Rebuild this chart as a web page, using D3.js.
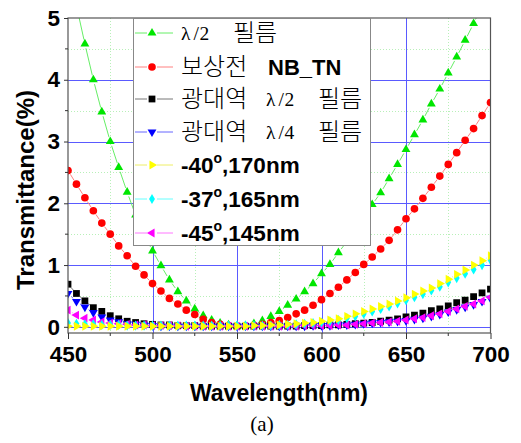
<!DOCTYPE html>
<html><head><meta charset="utf-8">
<script src="https://cdn.jsdelivr.net/npm/d3@7/dist/d3.min.js"></script>
<style>body{margin:0;background:#fff}svg{display:block}</style>
</head><body><svg id="c" width="521" height="443"></svg>
<script>
// ---------------- DATA ----------------
const wavelength = [450,455,460,465,470,475,480,485,490,495,500,505,510,515,520,525,530,535,540,545,550,555,560,565,570,575,580,585,590,595,600,605,610,615,620,625,630,635,640,645,650,655,660,665,670,675,680,685,690,695,700];
const halfWaveFilm = [5.9,5.2,4.58,4.0,3.48,3.0,2.58,2.18,1.81,1.5,1.23,0.99,0.76,0.57,0.42,0.29,0.18,0.11,0.06,0.03,0.01,0.02,0.05,0.10,0.17,0.25,0.35,0.45,0.57,0.70,0.86,1.01,1.20,1.38,1.56,1.76,1.98,2.17,2.40,2.63,2.87,3.11,3.35,3.61,3.85,4.11,4.37,4.64,4.91,5.2,5.5];
const beforeComp = [2.53,2.31,2.09,1.88,1.68,1.50,1.31,1.15,0.98,0.84,0.70,0.58,0.46,0.37,0.27,0.20,0.12,0.07,0.04,0.02,0.01,0.01,0.02,0.04,0.07,0.10,0.15,0.21,0.27,0.35,0.44,0.54,0.64,0.76,0.88,1.01,1.13,1.26,1.40,1.57,1.75,1.91,2.08,2.26,2.44,2.63,2.82,3.02,3.21,3.42,3.63];
const broadHalf = [0.69,0.54,0.42,0.31,0.25,0.18,0.13,0.09,0.07,0.05,0.04,0.03,0.03,0.02,0.02,0.02,0.01,0.01,0.01,0.01,0.01,0.01,0.01,0.01,0.01,0.01,0.01,0.01,0.02,0.02,0.02,0.03,0.03,0.04,0.05,0.06,0.07,0.09,0.11,0.13,0.16,0.19,0.22,0.26,0.29,0.34,0.39,0.43,0.49,0.55,0.61];
const broadQuarter = [0.54,0.41,0.32,0.23,0.16,0.11,0.08,0.05,0.04,0.03,0.02,0.01,0.01,0.01,0.01,0.01,0.01,0.01,0.01,0.01,0.01,0.01,0.01,0.01,0.01,0.01,0.01,0.01,0.01,0.02,0.02,0.02,0.03,0.03,0.04,0.05,0.06,0.07,0.08,0.09,0.10,0.12,0.14,0.17,0.20,0.24,0.28,0.32,0.36,0.41,0.46];
const m40_170 = [0.01,0.01,0.01,0.01,0.01,0.01,0.01,0.01,0.01,0.01,0.01,0.01,0.01,0.01,0.01,0.01,0.01,0.01,0.01,0.01,0.01,0.01,0.02,0.02,0.03,0.03,0.04,0.05,0.06,0.07,0.09,0.11,0.13,0.17,0.21,0.25,0.29,0.33,0.37,0.42,0.47,0.53,0.58,0.63,0.70,0.77,0.85,0.92,1.00,1.07,1.15];
const m37_165 = [0.06,0.05,0.04,0.04,0.03,0.03,0.03,0.02,0.02,0.02,0.02,0.02,0.02,0.02,0.02,0.02,0.02,0.02,0.02,0.02,0.02,0.02,0.02,0.02,0.02,0.03,0.03,0.04,0.05,0.06,0.07,0.09,0.11,0.14,0.17,0.21,0.25,0.29,0.33,0.38,0.43,0.48,0.53,0.59,0.65,0.72,0.79,0.86,0.93,1.00,1.08];
const m45_145 = [0.27,0.19,0.14,0.11,0.08,0.06,0.05,0.04,0.03,0.03,0.02,0.02,0.02,0.02,0.01,0.01,0.01,0.01,0.01,0.01,0.01,0.01,0.01,0.01,0.01,0.01,0.01,0.01,0.02,0.02,0.02,0.02,0.03,0.03,0.04,0.05,0.06,0.07,0.08,0.09,0.11,0.13,0.15,0.18,0.21,0.25,0.29,0.33,0.37,0.42,0.48];

const seriesNames = ["λ / 2|필름", "보상전|NB_TN", "광대역|λ / 2|필름", "광대역|λ / 4|필름", "-40|170nm", "-37|165nm", "-45|145nm"];
const seriesColors = ["#00e600", "#ff0000", "#000000", "#0000ff", "#ffff00", "#00ffff", "#ff00ff"];
const lineColors = ["#66ee66", "#ff8080", "#777777", "#6666ff", "#eeee66", "#66ffff", "#ff77ff"];
const seriesShapes = ["up", "circle", "square", "down", "right", "diamond", "left"];
const seriesValues = [halfWaveFilm, beforeComp, broadHalf, broadQuarter, m40_170, m37_165, m45_145];
const drawOrder = [0, 1, 2, 3, 6, 5, 4];

const xTicks = [450, 500, 550, 600, 650, 700];
const xMinor = [475, 525, 575, 625, 675];
const yTicks = [0, 1, 2, 3, 4, 5];
const yMinor = [0.5, 1.5, 2.5, 3.5, 4.5];
const xTitle = "Wavelength(nm)";
const yTitle = "Transmittance(%)";
const caption = "(a)";

// ---------------- CHART ----------------
const svg = d3.select("#c");
const L = 68, R = 490.5, T = 18, B = 333;
const x = d3.scaleLinear().domain([450, 700]).range([L, R]);
const y = d3.scaleLinear().domain([-0.1, 5]).range([B, T]);

svg.append("defs").append("clipPath").attr("id", "clip")
  .append("rect").attr("x", L).attr("y", T).attr("width", R - L).attr("height", B - T);

const grid = svg.append("g");
grid.selectAll(".vminor").data(xMinor).join("line")
  .attr("x1", d => Math.round(x(d)) + 0.5).attr("x2", d => Math.round(x(d)) + 0.5)
  .attr("y1", T).attr("y2", B).attr("stroke", "#b8f0b8").attr("stroke-dasharray", "1,2");
grid.selectAll(".hminor").data(yMinor).join("line")
  .attr("y1", d => Math.round(y(d)) + 0.5).attr("y2", d => Math.round(y(d)) + 0.5)
  .attr("x1", L).attr("x2", R).attr("stroke", "#b8f0b8").attr("stroke-dasharray", "1,2");
grid.selectAll(".vmajor").data(xTicks.slice(1, -1)).join("line")
  .attr("x1", d => Math.round(x(d)) + 0.5).attr("x2", d => Math.round(x(d)) + 0.5)
  .attr("y1", T).attr("y2", B).attr("stroke", "#5a5aff").attr("stroke-width", 1);
grid.selectAll(".hmajor").data(yTicks.slice(0, -1)).join("line")
  .attr("y1", d => Math.round(y(d)) + 0.5).attr("y2", d => Math.round(y(d)) + 0.5)
  .attr("x1", L).attr("x2", R).attr("stroke", "#5a5aff").attr("stroke-width", 1);

function symbolPath(shape, s) {
  const map = {up: [d3.symbolTriangle, 0], down: [d3.symbolTriangle, 180], left: [d3.symbolTriangle, -90],
    right: [d3.symbolTriangle, 90], circle: [d3.symbolCircle, 0], square: [d3.symbolSquare, 0], diamond: [d3.symbolDiamond, 0]};
  const sizes = {up: 34, down: 34, left: 34, right: 34, circle: 46, square: 46, diamond: 30};
  const [type, rot] = map[shape];
  return {d: d3.symbol().type(type).size(sizes[shape] * s)(), rot};
}

const plot = svg.append("g").attr("clip-path", "url(#clip)");
const gap = 4.5;
drawOrder.forEach(i => {
  const vals = seriesValues[i];
  const pts = wavelength.map((w, k) => [x(w), y(vals[k])]);
  const segs = [];
  for (let k = 0; k < pts.length - 1; k++) {
    const [x0, y0] = pts[k], [x1, y1] = pts[k + 1];
    const dx = x1 - x0, dy = y1 - y0, d = Math.hypot(dx, dy);
    if (d > 2 * gap + 0.5) {
      const ux = dx / d, uy = dy / d;
      segs.push([x0 + ux * gap, y0 + uy * gap, x1 - ux * gap, y1 - uy * gap]);
    }
  }
  const g = plot.append("g");
  g.selectAll("line").data(segs).join("line")
    .attr("x1", d => d[0]).attr("y1", d => d[1]).attr("x2", d => d[2]).attr("y2", d => d[3])
    .attr("stroke", lineColors[i]).attr("stroke-width", 1);
  const sp = symbolPath(seriesShapes[i], 1);
  g.selectAll("path").data(pts).join("path")
    .attr("d", sp.d)
    .attr("transform", d => `translate(${d[0]},${d[1]}) rotate(${sp.rot})`)
    .attr("fill", seriesColors[i]);
});

// frame
svg.append("rect").attr("x", L).attr("y", T).attr("width", R - L).attr("height", B - T)
  .attr("fill", "none").attr("stroke", "#555").attr("stroke-width", 1.2);

// axes
const xAxis = svg.append("g").attr("transform", `translate(0,${B})`)
  .call(d3.axisBottom(x).tickValues(xTicks).tickSize(6).tickFormat(d3.format("d")));
xAxis.select(".domain").remove();
xAxis.selectAll("line").attr("stroke", "#333");
xAxis.selectAll("text").attr("font-family", "Liberation Sans, Arial, sans-serif")
  .attr("font-weight", "bold").attr("font-size", 22.5).attr("fill", "#000").attr("y", 13);
svg.append("g").selectAll("line").data(xMinor).join("line")
  .attr("x1", d => x(d)).attr("x2", d => x(d)).attr("y1", B).attr("y2", B + 3).attr("stroke", "#333");

const yAxis = svg.append("g").attr("transform", `translate(${L},0)`)
  .call(d3.axisLeft(y).tickValues(yTicks).tickSize(4).tickPadding(6).tickFormat(d3.format("d")));
yAxis.select(".domain").remove();
yAxis.selectAll("line").attr("stroke", "#333");
yAxis.selectAll("text").attr("font-family", "Liberation Sans, Arial, sans-serif")
  .attr("font-weight", "bold").attr("font-size", 22.5).attr("fill", "#000").attr("x", -8);
svg.append("g").selectAll("line").data(yMinor).join("line")
  .attr("y1", d => y(d)).attr("y2", d => y(d)).attr("x1", L).attr("x2", L - 3).attr("stroke", "#333");

svg.append("text").attr("x", 279).attr("y", 401).attr("text-anchor", "middle")
  .attr("font-family", "Liberation Sans, Arial, sans-serif").attr("font-weight", "bold")
  .attr("font-size", 23).text(xTitle);
svg.append("text").attr("transform", "translate(34,190) rotate(-90)").attr("text-anchor", "middle")
  .attr("font-family", "Liberation Sans, Arial, sans-serif").attr("font-weight", "bold")
  .attr("font-size", 24).text(yTitle);
svg.append("text").attr("x", 262).attr("y", 431).attr("text-anchor", "middle")
  .attr("font-family", "Liberation Serif, Times New Roman, serif").attr("font-size", 21).text(caption);

// legend
const lg = svg.append("g");
lg.append("rect").attr("x", 133.5).attr("y", 18.5).attr("width", 237).attr("height", 227)
  .attr("fill", "#fff").attr("stroke", "#888").attr("stroke-width", 1);
const rowY = [33, 67, 99, 132, 165, 199, 233];
const KR = "Noto Sans CJK KR, sans-serif", SERIF = "Liberation Serif, serif", SANS = "Liberation Sans, Arial, sans-serif";
seriesNames.forEach((name, i) => {
  const cy = rowY[i];
  lg.append("line").attr("x1", 135).attr("x2", 147).attr("y1", cy).attr("y2", cy).attr("stroke", lineColors[i]);
  lg.append("line").attr("x1", 157).attr("x2", 173).attr("y1", cy).attr("y2", cy).attr("stroke", lineColors[i]);
  const sp = symbolPath(seriesShapes[i], 1);
  lg.append("path").attr("d", sp.d).attr("transform", `translate(152,${cy}) rotate(${sp.rot})`).attr("fill", seriesColors[i]);
  const parts = name.split("|");
  const base = cy + 8;
  if (/^-\d/.test(parts[0])) {
    const t = lg.append("text").attr("x", 181).attr("y", base).attr("font-family", SANS)
      .attr("font-weight", "bold").attr("font-size", 22.5);
    t.append("tspan").text(parts[0]);
    t.append("tspan").attr("font-size", 14).attr("dy", -10).text("o");
    t.append("tspan").attr("dy", 10).text("," + parts[1]);
  } else {
    let cx = 181;
    parts.forEach(p => {
      if (/[\uAC00-\uD7A3]/.test(p)) {
        lg.append("text").attr("x", cx).attr("y", base).attr("font-family", KR).attr("font-size", 24)
          .attr("font-weight", 300).text(p);
        cx += p.length * 24 + 13;
      } else if (p.startsWith("λ")) {
        const glyphs = p.split(" ");
        const offs = [0, 12.5, 18.5];
        glyphs.forEach((gch, k) => {
          lg.append("text").attr("x", cx + offs[k]).attr("y", base - 1).attr("font-family", SERIF)
            .attr("font-size", 19.5).text(gch);
        });
        cx += 52;
      } else {
        lg.append("text").attr("x", cx + 2).attr("y", base).attr("font-family", SANS).attr("font-weight", "bold")
          .attr("font-size", 22).text(p);
      }
    });
  }
});
</script></body></html>
